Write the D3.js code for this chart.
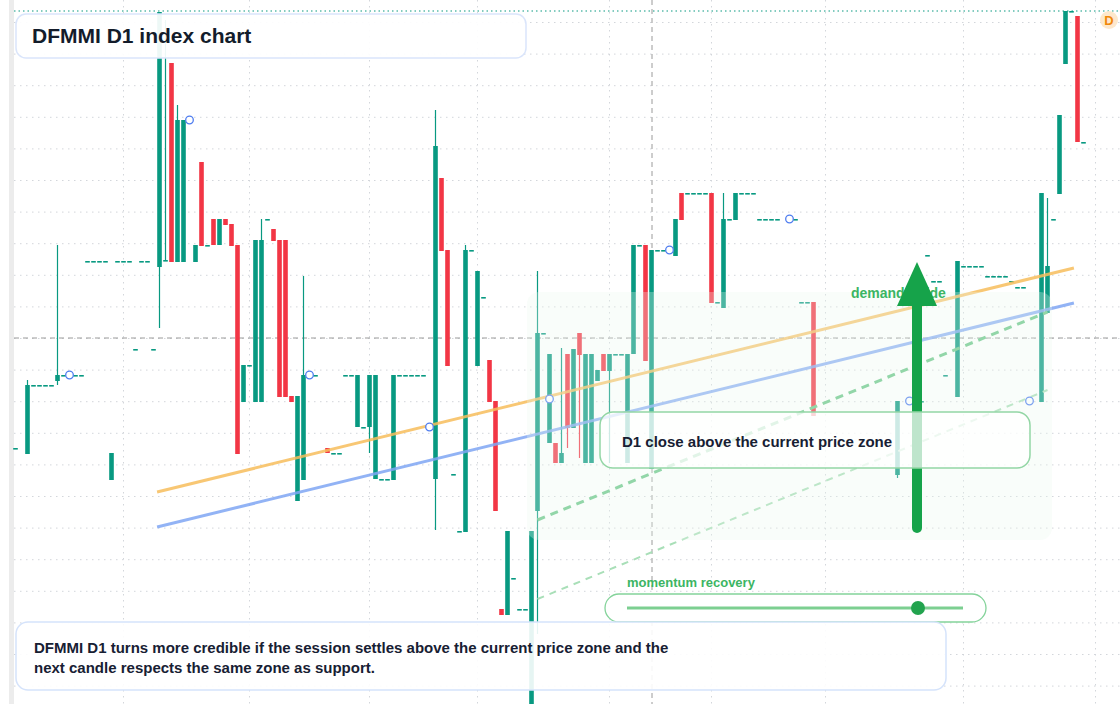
<!DOCTYPE html>
<html><head><meta charset="utf-8">
<script src="https://cdn.jsdelivr.net/npm/d3@7/dist/d3.min.js"></script>
<style>html,body{margin:0;padding:0;background:#fff;}svg{display:block;font-family:"Liberation Sans",Arial,sans-serif;}</style>
</head><body><svg id="c" width="1120" height="704"></svg>
<script>
// candles: [slot, open, close, high, low] (high/low optional)
const candles = [
[2,25.6,25.6],[4,25.0,31.9,32.4,25.0],[5,31.9,31.9],[6,31.9,31.9],[7,31.9,31.9],[8,31.9,31.9],
[9,32.3,32.9,45.9,31.9],[10,32.9,32.9],[12,32.9,32.9],[13,32.9,32.9],
[14,44.3,44.3],[15,44.3,44.3],[16,44.3,44.3],[17,44.3,44.3],[18,22.4,25.1],
[19,44.3,44.3],[20,44.3,44.3],[21,44.3,44.3],[22,35.5,35.5],[23,44.3,44.3],[24,44.3,44.3],[25,35.5,35.5],
[26,43.7,69.2,69.2,37.6],[27,44.3,44.4,68.4,44.3],[28,64.1,44.2],[29,44.2,58.4,59.9],[30,44.2,58.4],
[32,44.2,45.9],[33,54.2,45.8],[34,45.9,45.9],[35,48.5,45.9],[36,45.9,48.5],[37,48.5,47.9],[38,48.0,45.8],
[39,45.9,25.0],[40,30.2,33.9],[41,33.9,33.9],[42,30.2,46.4],[43,30.2,46.4,48.5],[44,48.5,48.5],
[45,47.5,46.3],[46,46.4,30.7],[47,46.4,30.7],[48,30.8,30.2],[49,20.3,30.8],[50,22.4,32.9,42.8],
[52,32.9,32.9],[54,25.6,25.1],[55,25.1,25.1],[56,25.1,25.1],[57,32.9,32.9],[58,32.9,32.9],
[59,27.7,32.9],[60,27.7,27.7],[61,27.7,32.9,32.9,25.1],[62,22.5,32.9],[63,22.5,22.5],[64,22.5,22.5],
[65,22.4,32.9],[66,32.9,32.9],[67,32.9,32.9],[68,32.9,32.9],[69,32.9,32.9],[70,32.9,32.9],
[72,22.5,55.8,59.4,17.4],[73,52.6,45.3],[74,45.4,33.8],[75,23.0,23.0],[76,17.3,17.3],
[77,17.2,45.4,45.9],[78,45.4,45.4],[79,33.8,43.3],[80,40.7,40.7],[81,34.4,30.2],[82,30.3,19.3],
[83,9.5,8.9],[84,8.9,17.3],[85,12.6,12.6],[86,9.5,9.5],[87,9.5,9.5],[88,0,17.3],
[89,19.3,37.1,43.3,7.0],[90,37.1,37.1],[91,26.1,35.0],[92,26.1,24.1],[93,24.1,25.1,35.6],
[94,35.0,27.6,35.0,25.6],[95,27.6,35.5],[96,37.1,34.9,37.1,24.6],[97,24.1,35.0],[98,24.1,35.0],
[99,32.3,33.4],[100,35.0,33.3],[101,33.3,35.0,35.0,24.1],[102,35.0,35.0],[103,35.0,35.0],
[104,24.1,35.0],[105,35.0,45.9],[106,45.9,45.9],[107,45.9,34.3],[108,23.5,45.4],[109,45.4,45.4],[110,45.4,45.4],
[112,44.8,48.5],[113,51.1,48.4],[114,51.1,51.1],[115,51.1,51.1],[116,51.1,51.1],[117,51.1,51.1],
[118,51.1,40.1],[119,40.2,40.2],[120,39.6,48.5,51.1],[121,48.5,48.5],[122,48.4,51.1],
[123,51.1,51.1],[124,51.1,51.1],[125,51.1,51.1],[126,48.5,48.5],[127,48.5,48.5],[128,48.5,48.5],[129,48.5,48.5],[132,48.5,48.5],
[133,40.2,40.2],[134,40.2,40.2],[135,40.2,28.8],
[149,22.9,30.3,30.3,22.6],[153,30.3,30.3],[154,44.9,44.9],[155,42.3,42.3],[156,42.3,42.3],[157,32.9,32.9],
[159,30.7,44.3],[160,43.8,43.8],[161,43.8,43.8],[162,43.8,43.8],[163,43.8,43.8],
[164,42.8,42.8],[165,42.8,42.8],[166,42.8,42.8],[167,42.8,42.8],[168,42.3,42.3],[169,41.7,41.7],[170,41.7,41.7],
[173,30.2,51.1],[174,39.1,43.8,50.6],[175,48.5,48.5],[176,51.0,58.9],[177,64.0,69.3],[178,69.3,69.3],
[179,68.8,56.2],[180,56.2,56.2]
];
const markers = [[11,32.9],[31,58.4],[51,32.9],[71,27.7],[91,30.5],[111,45.4],[131,48.5],[151,30.3],[171,30.3]];
const trendOrange = [[25.6,21.2],[178.4,43.6]];
const trendBlue = [[25.6,17.7],[178.4,40.1]];
const guideDash = [[89,18.4],[174,39.2]];
const guideThin = [[89,10.5],[174,31.4]];
const lastPrice = 69.3;
const vGridSlots = [20,41,61,79,101,118,137,160,182];
const titleText = "DFMMI D1 index chart";
const noteLines = ["DFMMI D1 turns more credible if the session settles above the current price zone and the","next candle respects the same zone as support."];
const calloutText = "D1 close above the current price zone";

const svg = d3.select("#c");
const x = d3.scaleLinear().domain([0,1]).range([3.5,9.5]);
const y = d3.scaleLinear().domain([0,70.4]).range([704,0]);
const up="#089981", dn="#f23645", bw=4.6;

// left gray strip
svg.append("rect").attr("x",9).attr("y",0).attr("width",5).attr("height",704).attr("fill","#ececec");
// grid
const hg = d3.range(0,22).map(k=>68.15-3.16*k);
svg.append("g").selectAll("line").data(hg).join("line")
 .attr("x1",14).attr("x2",1120).attr("y1",d=>y(d)).attr("y2",d=>y(d))
 .attr("stroke","#d3d6db").attr("stroke-dasharray","1.5,4.5");
svg.append("g").selectAll("line").data(vGridSlots).join("line")
 .attr("x1",d=>x(d)).attr("x2",d=>x(d)).attr("y1",0).attr("y2",704)
 .attr("stroke","#d3d6db").attr("stroke-dasharray","1.5,4.5");
// crosshair
svg.append("line").attr("x1",14).attr("x2",1120).attr("y1",338).attr("y2",338).attr("stroke","#9a9a9a").attr("stroke-dasharray","5,4");
svg.append("line").attr("x1",652).attr("x2",652).attr("y1",0).attr("y2",704).attr("stroke","#9a9a9a").attr("stroke-dasharray","5,4");
// last price line
svg.append("line").attr("x1",14).attr("x2",1120).attr("y1",y(lastPrice)).attr("y2",y(lastPrice)).attr("stroke",up).attr("stroke-dasharray","1.5,3");

// candles
const cg = svg.append("g");
candles.forEach(c=>{
  const [i,o,cl] = c; const h = Math.max(c[3]??cl,o,cl), l = Math.min(c[4]??Math.min(o,cl),o,cl);
  const col = cl>=o?up:dn; const cx=x(i);
  if (h>Math.max(o,cl)||l<Math.min(o,cl)) cg.append("line").attr("x1",cx).attr("x2",cx).attr("y1",y(h)).attr("y2",y(l)).attr("stroke",col).attr("stroke-width",1.2);
  const top=y(Math.max(o,cl)), bh=Math.max(1.6,y(Math.min(o,cl))-top);
  cg.append("rect").attr("x",cx-bw/2).attr("y",top).attr("width",bw).attr("height",bh).attr("fill",col);
});
// trend lines
const ln = d3.line().x(d=>x(d[0])).y(d=>y(d[1]));
svg.append("path").attr("d",ln(trendOrange)).attr("stroke","#f7bd5c").attr("stroke-width",3).attr("opacity",0.85).attr("fill","none");
svg.append("path").attr("d",ln(trendBlue)).attr("stroke","#7fa6f3").attr("stroke-width",3).attr("opacity",0.85).attr("fill","none");
svg.append("path").attr("d",ln(guideDash)).attr("stroke","#6cc78a").attr("stroke-width",3).attr("stroke-dasharray","8,6").attr("fill","none");
svg.append("path").attr("d",ln(guideThin)).attr("stroke","#a9dfb8").attr("stroke-width",2).attr("stroke-dasharray","7,6").attr("fill","none");
// markers
svg.append("g").selectAll("circle").data(markers).join("circle").attr("cx",d=>x(d[0])).attr("cy",d=>y(d[1])).attr("r",3.8)
 .attr("fill","#fff").attr("stroke","#4f7df0").attr("stroke-width",1.3);
// zone overlay
svg.append("rect").attr("x",527).attr("y",292).attr("width",525).attr("height",248).attr("rx",12)
 .attr("fill","#eaf8ee").attr("opacity",0.3);
// arrow
svg.append("line").attr("x1",917).attr("x2",917).attr("y1",528).attr("y2",300).attr("stroke","#16a34a").attr("stroke-width",10).attr("stroke-linecap","round");
svg.append("text").attr("x",851).attr("y",298).attr("fill","#3cb563").attr("font-weight","bold").attr("font-size",14).text("demand guide");
svg.append("path").attr("d","M917,262 L937,306 L897,306 Z").attr("fill","#16a34a");
// callout
svg.append("rect").attr("x",600).attr("y",412).attr("width",430).attr("height",56).attr("rx",13)
 .attr("fill","#fff").attr("fill-opacity",0.72).attr("stroke","#93d6a5").attr("stroke-width",1.5);
svg.append("text").attr("x",622).attr("y",447).attr("font-size",15).attr("font-weight","bold").attr("fill","#172033").text(calloutText);
// momentum slider
svg.append("text").attr("x",627).attr("y",587).attr("font-size",13).attr("font-weight","bold").attr("fill","#3cb563").text("momentum recovery");
svg.append("rect").attr("x",605).attr("y",594).attr("width",381).attr("height",28).attr("rx",14).attr("fill","#fff").attr("stroke","#84d39a").attr("stroke-width",1.3);
svg.append("line").attr("x1",627).attr("x2",963).attr("y1",608).attr("y2",608).attr("stroke","#7ccf91").attr("stroke-width",3);
svg.append("circle").attr("cx",918).attr("cy",608).attr("r",7).attr("fill","#22a34e");
// title box
svg.append("rect").attr("x",16).attr("y",14).attr("width",510).attr("height",44).attr("rx",10).attr("fill","#fff").attr("fill-opacity",0.93).attr("stroke","#dae5fb").attr("stroke-width",1.5);
svg.append("text").attr("x",32).attr("y",43).attr("font-size",21).attr("font-weight","bold").attr("fill","#131c2b").text(titleText);
// note box
svg.append("rect").attr("x",16).attr("y",622).attr("width",930).attr("height",68).attr("rx",12).attr("fill","#fff").attr("fill-opacity",0.9).attr("stroke","#d5e3fb").attr("stroke-width",1.5);
svg.append("g").selectAll("text").data(noteLines).join("text").attr("x",34).attr("y",(d,k)=>653+k*20)
 .attr("font-size",15).attr("font-weight","bold").attr("fill","#172033").text(d=>d);
// D badge
svg.append("circle").attr("cx",1109).attr("cy",20).attr("r",9).attr("fill","#fde8cc");
svg.append("text").attr("x",1109).attr("y",25).attr("text-anchor","middle").attr("font-size",13).attr("font-weight","bold").attr("fill","#f0870a").text("D");
</script></body></html>
